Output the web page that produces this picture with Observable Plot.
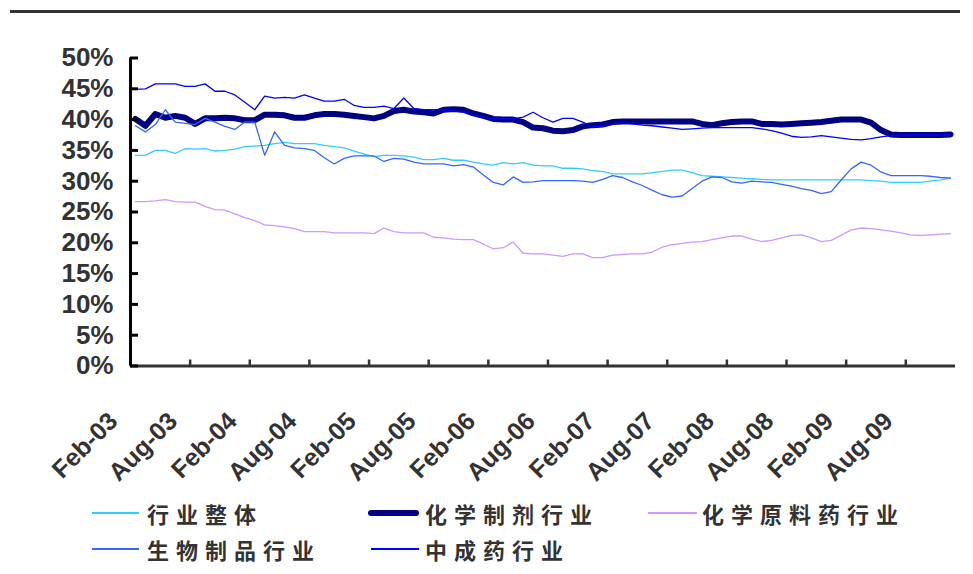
<!DOCTYPE html>
<html>
<head>
<meta charset="utf-8">
<script src="https://cdn.jsdelivr.net/npm/d3@7"></script>
<script src="https://cdn.jsdelivr.net/npm/@observablehq/plot@0.6"></script>
<style>
  body { margin: 0; background: #fff; }
  #wrap { position: relative; width: 973px; height: 574px; overflow: hidden; background: #fff; }
  #topline { position: absolute; left: 10px; top: 10px; width: 950px; height: 3px; background: #333; }
  #chart { position: absolute; left: 0; top: 0; }
  .leg { position: absolute; display: flex; align-items: center; height: 24px; line-height: 24px;
         font-family: "Noto Sans CJK SC", sans-serif; font-size: 22px; font-weight: bold; letter-spacing: 7px; color: #333; white-space: nowrap; }
  .leg .sw { display: inline-block; }
</style>
</head>
<body>
<div id="wrap">
  <div id="chart"></div>
  <div id="topline"></div>
  <div id="legend"></div>
</div>
<script>
// ---- data (monthly, Feb-03 .. Dec-09), values in % ----
const seriesNames = ["行业整体", "化学制剂行业", "化学原料药行业", "生物制品行业", "中成药行业"];
const seriesColors = ["#33CCFF", "#000080", "#CC99FF", "#3366FF", "#0000FF"];

const overall = [
  34.2, 34.2, 35.0, 35.0, 34.5, 35.3, 35.2, 35.3, 34.9, 35.0, 35.2, 35.6, 35.7, 35.8, 36.1, 36.3, 36.1, 36.1, 36.1, 35.8, 35.6,
  35.4, 34.9, 34.4, 34.0, 34.2, 34.2, 34.1, 33.9, 33.5, 33.5, 33.7, 33.4, 33.4, 33.1, 32.8, 32.6, 33.0, 32.8, 33.0, 32.6, 32.5,
  32.5, 32.1, 32.1, 32.0, 31.7, 31.6, 31.2, 31.2, 31.2, 31.2, 31.4, 31.6, 31.8, 31.8, 31.4, 30.9, 30.8, 30.7, 30.6, 30.5, 30.4,
  30.3, 30.2, 30.2, 30.2, 30.2, 30.2, 30.2, 30.2, 30.2, 30.2, 30.2, 30.1, 30.0, 29.8, 29.8, 29.8, 29.8, 30.0, 30.2, 30.5
];
const chemPrep = [
  40.1, 39.0, 40.9, 40.3, 40.6, 40.3, 39.3, 40.2, 40.2, 40.3, 40.2, 39.9, 39.9, 40.8, 40.8, 40.7, 40.3, 40.3, 40.7, 40.9, 40.9,
  40.8, 40.6, 40.4, 40.2, 40.6, 41.4, 41.6, 41.3, 41.2, 41.0, 41.6, 41.7, 41.6, 41.0, 40.6, 40.1, 40.0, 40.0, 39.6, 38.7, 38.6,
  38.2, 38.1, 38.3, 38.9, 39.1, 39.2, 39.6, 39.7, 39.7, 39.7, 39.7, 39.7, 39.7, 39.7, 39.7, 39.3, 39.1, 39.4, 39.6, 39.7, 39.7,
  39.3, 39.3, 39.2, 39.3, 39.4, 39.5, 39.6, 39.8, 40.0, 40.0, 40.0, 39.5, 38.3, 37.6, 37.5, 37.5, 37.5, 37.5, 37.5, 37.6
];
const chemRaw = [
  26.7, 26.7, 26.8, 27.0, 26.7, 26.6, 26.6, 25.9, 25.4, 25.3, 24.7, 24.1, 23.6, 22.9, 22.8, 22.6, 22.3, 21.8, 21.8, 21.8, 21.6,
  21.6, 21.6, 21.6, 21.5, 22.4, 21.8, 21.6, 21.6, 21.6, 20.9, 20.8, 20.6, 20.5, 20.5, 19.8, 19.0, 19.2, 20.1, 18.3, 18.2, 18.2,
  18.0, 17.8, 18.2, 18.2, 17.6, 17.6, 18.0, 18.1, 18.2, 18.2, 18.5, 19.3, 19.7, 19.9, 20.1, 20.2, 20.5, 20.8, 21.1, 21.1, 20.6,
  20.2, 20.4, 20.8, 21.2, 21.3, 20.8, 20.2, 20.4, 21.2, 22.1, 22.4, 22.3, 22.1, 21.9, 21.6, 21.3, 21.2, 21.3, 21.4, 21.5
];
const bio = [
  39.0, 38.0, 39.2, 41.6, 39.6, 39.4, 39.2, 40.2, 39.6, 38.9, 38.4, 39.6, 39.6, 34.2, 38.0, 35.8, 35.4, 35.3, 35.0, 33.8, 32.8,
  33.7, 34.1, 34.1, 34.1, 33.2, 33.7, 33.6, 33.1, 32.8, 32.8, 32.8, 32.5, 32.7, 32.3, 31.0, 29.8, 29.4, 30.7, 29.8, 29.9, 30.1,
  30.1, 30.1, 30.1, 30.0, 29.8, 30.3, 30.9, 30.6, 29.9, 29.3, 28.5, 27.8, 27.4, 27.6, 28.8, 30.0, 30.7, 30.6, 29.9, 29.7, 30.0,
  29.9, 29.8, 29.5, 29.2, 28.8, 28.5, 28.0, 28.3, 30.2, 32.0, 33.1, 32.6, 31.5, 30.9, 30.9, 30.9, 30.9, 30.8, 30.6, 30.5
];
const tcm = [
  44.9, 45.0, 45.8, 45.8, 45.8, 45.4, 45.4, 45.8, 44.6, 44.6, 44.0, 42.8, 41.6, 43.8, 43.5, 43.6, 43.5, 44.0, 43.5, 43.0, 43.0,
  43.3, 42.3, 42.0, 42.0, 42.2, 41.8, 43.5, 41.8, 41.6, 41.6, 41.6, 41.4, 41.2, 40.8, 40.4, 40.2, 40.2, 40.1, 40.4, 41.2, 40.3,
  39.6, 40.2, 40.2, 39.6, 38.8, 38.9, 39.3, 39.5, 39.3, 39.1, 39.0, 38.8, 38.6, 38.4, 38.5, 38.6, 38.7, 38.7, 38.7, 38.7, 38.7,
  38.5, 38.2, 37.8, 37.3, 37.1, 37.2, 37.4, 37.2, 37.0, 36.8, 36.7, 36.9, 37.2, 37.4, 37.5, 37.5, 37.5, 37.5, 37.5, 37.5
];

const xTickLabels = ["Feb-03", "Aug-03", "Feb-04", "Aug-04", "Feb-05", "Aug-05", "Feb-06",
                     "Aug-06", "Feb-07", "Aug-07", "Feb-08", "Aug-08", "Feb-09", "Aug-09"];
const labelStep = 6; // months between labels
const yTicks = [0, 5, 10, 15, 20, 25, 30, 35, 40, 45, 50];

// ---- build table ----
const allSeries = [overall, chemPrep, chemRaw, bio, tcm];
const nMonths = overall.length;
const rows = [];
allSeries.forEach((vals, s) => vals.forEach((v, i) => rows.push({name: seriesNames[s], i, v})));

const lineMark = (s, width) =>
  Plot.line(rows.filter(d => d.name === seriesNames[s]), {
    x: "i", y: "v", stroke: seriesColors[s], strokeWidth: width,
    strokeLinecap: "round", strokeLinejoin: "round"
  });

const tickPositions = xTickLabels.map((_, k) => k * labelStep - 0.5);

const chart = Plot.plot({
  width: 973,
  height: 490,
  marginTop: 57.5,
  marginBottom: 124.5,
  marginLeft: 130,
  marginRight: 18,
  x: {domain: [-0.5, nMonths - 0.5]},
  y: {domain: [0, 50]},
  style: {background: "transparent", fontFamily: "'Liberation Sans', Arial, sans-serif", overflow: "visible"},
  marks: [
    lineMark(0, 1.3),
    lineMark(1, 6),
    lineMark(2, 1.3),
    lineMark(3, 1.3),
    lineMark(4, 1.3),
    // x axis line and inward ticks
    Plot.ruleY([0], {stroke: "#333", strokeWidth: 3}),
    Plot.axisX(tickPositions, {tickSize: 6, dy: -6, tickFormat: () => "", stroke: "#333", strokeWidth: 2.5, label: null}),
    // y axis line, inward ticks, labels
    Plot.ruleX([-0.5], {stroke: "#000", strokeWidth: 3}),
    Plot.axisY(yTicks, {tickSize: 8, dx: 8, tickFormat: () => "", stroke: "#000", strokeWidth: 3, label: null}),
    Plot.axisY(yTicks, {tickSize: 0, tickPadding: 17, tickFormat: d => d + "%", fontSize: 26,
                        fontWeight: "bold", color: "#333", label: null}),
    // rotated category labels
    Plot.text(xTickLabels, {
      x: (_, k) => k * labelStep, frameAnchor: "bottom", dy: 51, dx: -22,
      text: d => d, rotate: -45, textAnchor: "end", lineAnchor: "middle",
      fontSize: 25, fontWeight: "bold", fill: "#333"
    })
  ]
});
document.getElementById("chart").appendChild(chart);

// ---- legend (HTML, below the SVG) ----
const legendLayout = [
  {s: 0, left: 92, top: 501, w: 47, gap: 8, h: 1.5},
  {s: 1, left: 368, top: 501, w: 51, gap: 6, h: 6},
  {s: 2, left: 648, top: 501, w: 49, gap: 5, h: 1.5},
  {s: 3, left: 92, top: 537, w: 47, gap: 8, h: 1.5},
  {s: 4, left: 371, top: 537, w: 48, gap: 6, h: 1.5}
];
const legend = document.getElementById("legend");
legendLayout.forEach(L => {
  const item = document.createElement("div");
  item.className = "leg";
  item.style.left = L.left + "px";
  item.style.top = L.top + "px";
  const sw = document.createElement("span");
  sw.className = "sw";
  sw.style.width = L.w + "px";
  sw.style.height = L.h + "px";
  sw.style.background = seriesColors[L.s];
  sw.style.marginRight = L.gap + "px";
  if (L.h > 3) sw.style.borderRadius = (L.h / 2) + "px";
  item.appendChild(sw);
  item.appendChild(document.createTextNode(seriesNames[L.s]));
  legend.appendChild(item);
});
</script>
</body>
</html>
